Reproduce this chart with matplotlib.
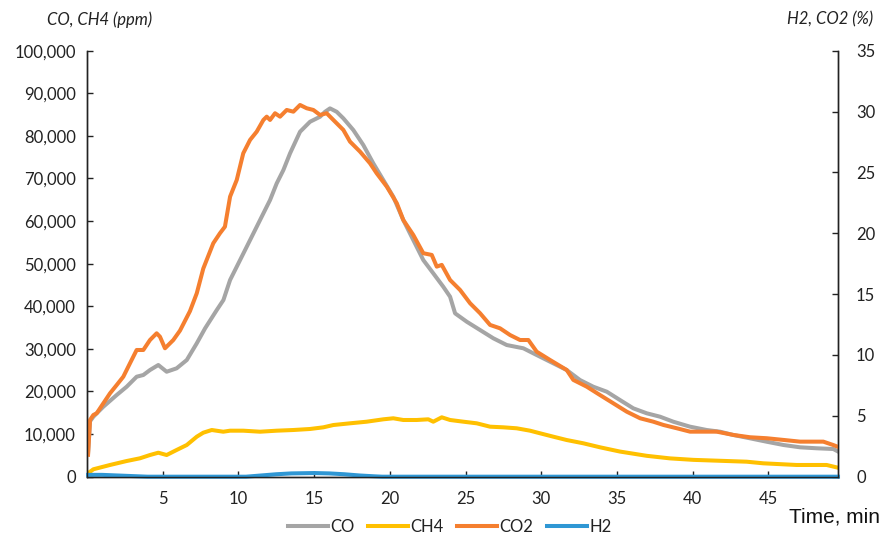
import matplotlib
matplotlib.use("Agg")
from matplotlib import pyplot as plt
from matplotlib import ticker

# CO (ppm, left axis)
co_t = [0.07, 0.2, 0.42, 1.08, 1.96, 2.62, 3.28, 3.72, 4.16, 4.71, 5.26, 5.92, 6.59, 7.25, 7.80,
        8.57, 9.01, 9.45, 9.89, 10.55, 11.21, 11.65, 12.09, 12.53, 12.97, 13.41, 14.07, 14.73,
        15.39, 15.72, 16.05, 16.49, 16.93, 17.59, 18.25, 18.91, 19.57, 20.23, 20.89, 21.55,
        22.21, 22.87, 23.53, 23.98, 24.31, 25.08, 25.96, 26.84, 27.72, 28.82, 29.70, 30.80,
        31.68, 32.56, 33.44, 34.33, 35.20, 36.08, 36.97, 37.85, 38.72, 39.83, 40.93, 41.81,
        42.69, 43.79, 44.89, 46.0, 47.09, 48.19, 49.29, 49.6]
co_ppm = [5500, 13000, 14080, 16430, 19170, 21120, 23470, 23870, 25040, 26220, 24640, 25440,
          27390, 31310, 34830, 39120, 41470, 46170, 49290, 53980, 58680, 61820, 64940, 68860,
          71980, 75900, 80970, 83320, 84490, 85660, 86460, 85660, 84120, 81370, 77850, 73550,
          69630, 65710, 60250, 55550, 50860, 47740, 44590, 42250, 38350, 36380, 34430, 32480,
          30910, 30140, 28560, 26610, 25040, 22690, 21120, 19950, 18000, 16050, 14880, 14080,
          12910, 11740, 10960, 10560, 9790, 9010, 8210, 7440, 6900, 6670, 6500, 5910]

# CH4 (ppm, left axis)
ch4_t = [0.07, 0.42, 1.52, 2.62, 3.50, 4.16, 4.71, 5.26, 5.92, 6.59, 7.25, 7.68, 8.24, 9.0,
         9.45, 10.32, 11.43, 12.53, 13.63, 14.73, 15.61, 16.27, 17.37, 18.47, 19.57, 20.23,
         20.89, 21.77, 22.54, 22.87, 23.43, 23.98, 24.86, 25.74, 26.62, 27.50, 28.38, 29.26,
         29.92, 30.80, 31.68, 32.78, 33.88, 35.20, 36.97, 38.5, 40.05, 43.57, 44.67, 46.87,
         48.85, 49.6]
ch4_ppm = [800, 1740, 2750, 3680, 4320, 5090, 5630, 5090, 6270, 7440, 9390, 10330, 10960,
           10560, 10800, 10800, 10560, 10800, 10960, 11200, 11590, 12130, 12530, 12910, 13470,
           13710, 13310, 13310, 13470, 12910, 13940, 13310, 12910, 12530, 11740, 11590, 11360,
           10800, 10190, 9390, 8610, 7840, 6900, 5900, 4900, 4300, 3950, 3520, 3140, 2750,
           2750, 2110]

# CO2 (%, right axis)
co2_t = [0.07, 0.2, 0.42, 0.64, 1.08, 1.52, 1.96, 2.40, 2.84, 3.28, 3.72, 4.16, 4.60, 4.82,
         5.15, 5.70, 6.14, 6.80, 7.25, 7.68, 8.34, 8.78, 9.11, 9.45, 9.89, 10.32, 10.77, 11.21,
         11.65, 11.87, 12.09, 12.42, 12.75, 13.19, 13.63, 14.07, 14.51, 14.95, 15.39, 15.83,
         16.27, 16.93, 17.37, 18.03, 18.69, 19.13, 19.80, 20.46, 20.89, 21.55, 22.21, 22.77,
         23.10, 23.43, 23.98, 24.64, 25.30, 25.96, 26.62, 27.28, 27.94, 28.60, 29.15, 29.70,
         30.58, 31.68, 32.12, 33.0, 33.88, 34.76, 35.65, 36.53, 37.40, 38.07, 38.95, 39.83,
         41.59, 42.69, 43.79, 44.89, 46.0, 47.09, 48.63, 49.29, 49.6]
co2_pct = [1.8, 4.66, 5.07, 5.21, 6.03, 6.85, 7.53, 8.22, 9.32, 10.41, 10.41, 11.23, 11.78,
           11.50, 10.55, 11.23, 12.0, 13.6, 15.07, 17.1, 19.18, 20.0, 20.54, 23.01, 24.38,
           26.57, 27.67, 28.35, 29.31, 29.58, 29.31, 29.86, 29.58, 30.13, 29.99, 30.54, 30.27,
           30.13, 29.72, 29.86, 29.31, 28.49, 27.53, 26.71, 25.75, 24.93, 23.83, 22.47, 21.09,
           19.86, 18.36, 18.22, 17.26, 17.40, 16.16, 15.34, 14.25, 13.43, 12.47, 12.19, 11.64,
           11.23, 11.23, 10.27, 9.59, 8.77, 7.95, 7.40, 6.71, 6.03, 5.34, 4.80, 4.52, 4.25,
           3.98, 3.70, 3.70, 3.43, 3.24, 3.16, 3.02, 2.88, 2.88, 2.60, 2.45]

# H2 (%, right axis)
h2_t = [0.07, 1.0, 2.0, 3.0, 4.0, 10.5, 11.5, 12.5, 13.5, 15.0, 16.0, 17.0, 18.0, 19.0, 19.5, 49.6]
h2_pct = [0.15, 0.15, 0.1, 0.05, 0.0, 0.0, 0.1, 0.2, 0.27, 0.3, 0.27, 0.2, 0.1, 0.03, 0.0, 0.0]

x_ticks = [5, 10, 15, 20, 25, 30, 35, 40, 45]

plt.rcParams['font.family'] = ['Lato', 'DejaVu Sans']

fig = plt.figure(figsize=(8.85, 5.37), dpi=100)
ax = fig.add_axes([0.0983, 0.1123, 0.8486, 0.7933])
ax2 = ax.twinx()

lw = 2.9
l_co, = ax.plot(co_t, co_ppm, color='#A5A5A5', lw=lw, label='CO')
l_ch4, = ax.plot(ch4_t, ch4_ppm, color='#FFC000', lw=lw, label='CH4')
l_co2, = ax2.plot(co2_t, co2_pct, color='#F57F2F', lw=lw, label='CO2')
l_h2, = ax2.plot(h2_t, h2_pct, color='#2F97D4', lw=lw, label='H2', clip_on=False)

ax.set_xlim(0, 49.6)
ax.set_ylim(0, 100000)
ax2.set_ylim(0, 35)
ax.set_xticks(x_ticks)
ax.set_yticks(range(0, 100001, 10000))
ax2.set_yticks(range(0, 36, 5))
ax.yaxis.set_major_formatter(ticker.FuncFormatter(lambda v, p: f"{int(v):,}"))

for a in (ax, ax2):
    a.spines['top'].set_visible(False)
    for s in ('left', 'right', 'bottom'):
        a.spines[s].set_linewidth(1.0)
        a.spines[s].set_color('#222222')
ax.tick_params(axis='x', direction='in', length=4, width=1, pad=10, labelsize=12, colors='#222222')
ax.tick_params(axis='y', direction='in', length=4, width=1, pad=8, labelsize=12, colors='#222222')
ax2.tick_params(axis='y', direction='in', length=4, width=1, pad=13, labelsize=12, colors='#222222')

fig.text(0.112, 0.963, 'CO, CH4 (ppm)', fontsize=12, style='italic', ha='center', va='center', color='#222222')
fig.text(0.938, 0.963, 'H2, CO2 (%)', fontsize=12, style='italic', ha='center', va='center', color='#222222')
fig.text(0.994, 0.037, 'Time, min', fontsize=15, ha='right', va='center',
         family=['Liberation Sans', 'DejaVu Sans'], color='#111111')

fig.legend([l_co, l_ch4, l_co2, l_h2], ['CO', 'CH4', 'CO2', 'H2'], loc='center',
           bbox_to_anchor=(0.508, 0.019), ncol=4, frameon=False, fontsize=12,
           handlelength=2.4, handletextpad=0.15, columnspacing=0.8, labelcolor='#222222')

fig.savefig('out.png', dpi=100)
